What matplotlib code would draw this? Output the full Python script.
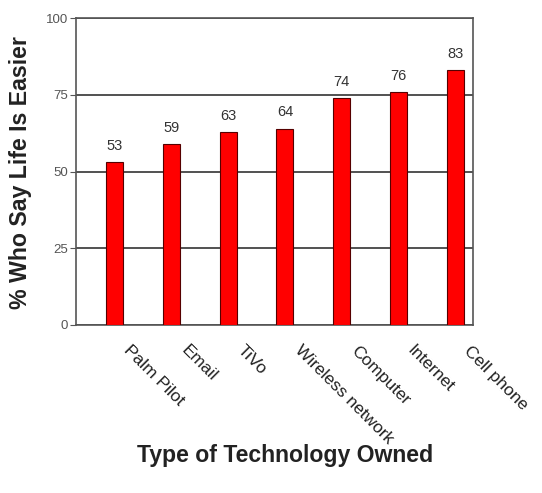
import matplotlib
matplotlib.use("Agg")
import matplotlib.pyplot as plt

categories = ["Palm Pilot", "Email", "TiVo", "Wireless network", "Computer", "Internet", "Cell phone"]
values = [53, 59, 63, 64, 74, 76, 83]
yticks = [0, 25, 50, 75, 100]

plt.rcParams['font.family'] = ['Liberation Sans', 'DejaVu Sans']

fig = plt.figure(figsize=(5.42, 4.93), dpi=100)
ax = fig.add_axes([0.141, 0.341, 0.732, 0.622])

x = list(range(len(categories)))
ax.bar(x, values, width=0.30, color='#ff0000', edgecolor='#550000', linewidth=0.8, zorder=3)
for xi, v in zip(x, values):
    ax.text(xi, v + 3, str(v), ha='center', va='bottom', fontsize=10.5, color='#333333')

ax.set_xlim(-0.68, len(categories) - 0.68)
ax.set_ylim(0, 100)
ax.set_yticks(yticks)
ax.set_yticklabels([str(t) for t in yticks], fontsize=9.5, color='#555555')
ax.yaxis.grid(True, color='#333333', linewidth=1.2, zorder=0)

label_shift = 0.3
ax.set_xticks([xi + label_shift for xi in x])
ax.set_xticklabels(categories, rotation=-45, ha='left', va='top', rotation_mode='anchor',
                   fontsize=12.5, color='#222222')
ax.tick_params(axis='x', length=0, pad=13)
ax.tick_params(axis='y', length=4, color='#555555', pad=2)
for s in ax.spines.values():
    s.set_color('#555555')
    s.set_linewidth(1.2)

fig.text(0.037, 0.650, "% Who Say Life Is Easier", ha='center', va='center', rotation=90,
         fontsize=16.7, fontweight='bold', color='#222222')
fig.text(0.526, 0.077, "Type of Technology Owned", ha='center', va='center', fontsize=16.6,
         fontweight='bold', color='#222222')

fig.savefig("out.png", dpi=100, facecolor='white')
